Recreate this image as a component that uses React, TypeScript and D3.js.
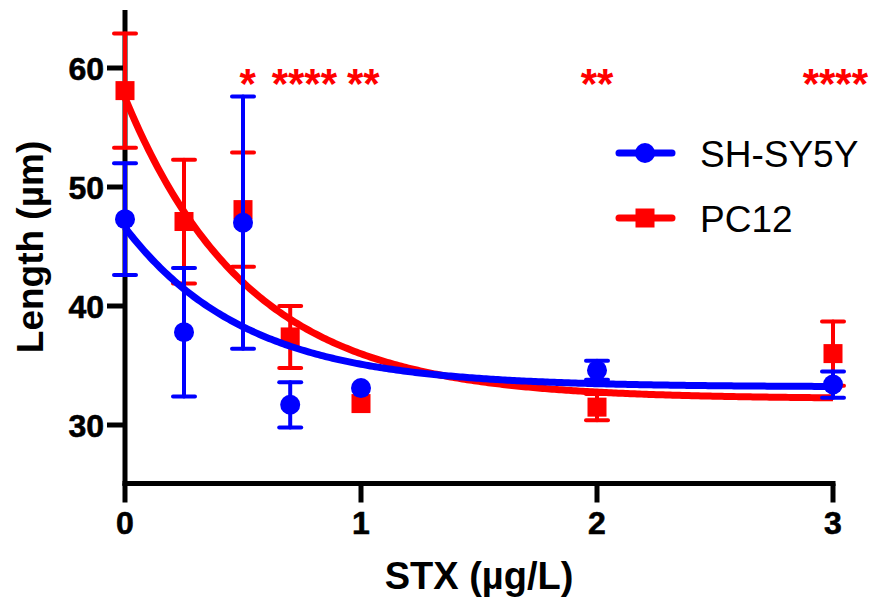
import React from "react";
import * as d3 from "d3";

const doses = [0, 0.25, 0.5, 0.7, 1, 2, 3];
const shMean = [47.3, 37.8, 47.0, 31.7, 33.1, 34.6, 33.4];
const shErr = [4.7, 5.4, 10.6, 1.9, 0, 0.8, 1.1];
const pcMean = [58.1, 47.1, 48.1, 37.4, 31.8, 31.5, 36.0];
const pcErr = [4.8, 5.2, 4.8, 2.6, 0, 1.1, 2.7];

// one-phase decay fits: [Y0, plateau, K]
const shFit = [46.6, 33.2, 1.95];
const pcFit = [57.5, 32.2, 1.9];

const xTicks = [0, 1, 2, 3];
const yTicks = [30, 40, 50, 60];
const sigX = [0.52, 0.76, 1.01, 2.0, 3.01];
const sigLabels = ["*", "****", "**", "**", "****"];
const sigY = 57.5;

const seriesNames = ["SH-SY5Y", "PC12"];
const BLUE = "#0000ff";
const RED = "#ff0000";
const FONT = "'Liberation Sans', Arial, Helvetica, sans-serif";

export default function App() {
  const W = 874, H = 599;
  const x = d3.scaleLinear().domain([0, 3]).range([125, 833]);
  const y = d3.scaleLinear().domain([25, 65]).range([484.5, 8.5]);

  const fitLine = (p: number[]) => {
    const xs = d3.range(0, 3.0001, 0.01);
    return d3
      .line<number>()
      .x((d) => x(d))
      .y((d) => y(p[1] + (p[0] - p[1]) * Math.exp(-p[2] * d)))(xs) as string;
  };

  const errBars = (mean: number[], err: number[], color: string) =>
    doses.map((d, i) =>
      err[i] > 0 ? (
        <g key={i} stroke={color} strokeWidth={4} strokeLinecap="round">
          <line x1={x(d)} x2={x(d)} y1={y(mean[i] - err[i])} y2={y(mean[i] + err[i])} />
          <line x1={x(d) - 11} x2={x(d) + 11} y1={y(mean[i] + err[i])} y2={y(mean[i] + err[i])} />
          <line x1={x(d) - 11} x2={x(d) + 11} y1={y(mean[i] - err[i])} y2={y(mean[i] - err[i])} />
        </g>
      ) : null
    );

  return (
    <svg width={W} height={H} style={{ position: "absolute", left: 0, top: 0, background: "#fff" }} fontFamily={FONT}>
      <rect width={W} height={H} fill="#fff" />
      {/* axes */}
      <g stroke="#000" strokeWidth={5}>
        <line x1={x(0)} x2={x(0)} y1={10} y2={y(25) + 1} />
        <line x1={x(0) - 2.5} x2={x(3) + 2.5} y1={y(25) - 1} y2={y(25) - 1} />
        {yTicks.map((t) => (
          <line key={t} x1={x(0) - 18} x2={x(0)} y1={y(t)} y2={y(t)} />
        ))}
        {xTicks.map((t) => (
          <line key={t} x1={x(t)} x2={x(t)} y1={y(25) - 1} y2={y(25) + 18} />
        ))}
      </g>
      {yTicks.map((t) => (
        <text key={t} x={x(0) - 21} y={y(t) + 12} textAnchor="end" fontWeight="bold" fontSize={32} fill="#000" stroke="#000" strokeWidth={0.6}>
          {t}
        </text>
      ))}
      {xTicks.map((t) => (
        <text key={t} x={x(t)} y={534} textAnchor="middle" fontWeight="bold" fontSize={32} fill="#000" stroke="#000" strokeWidth={0.6}>
          {t}
        </text>
      ))}
      <text x={479} y={589} textAnchor="middle" fontWeight="bold" fontSize={38} fill="#000">
        STX (µg/L)
      </text>
      <text
        transform={`translate(43,247) rotate(-90)`}
        textAnchor="middle"
        fontWeight="bold"
        fontSize={37}
        fill="#000"
      >
        Length (µm)
      </text>

      {/* PC12 */}
      {errBars(pcMean, pcErr, RED)}
      <path d={fitLine(pcFit)} fill="none" stroke={RED} strokeWidth={7} />
      {doses.map((d, i) => (
        <rect key={i} x={x(d) - 9.5} y={y(pcMean[i]) - 9.5} width={19} height={19} fill={RED} />
      ))}

      {/* SH-SY5Y */}
      {errBars(shMean, shErr, BLUE)}
      <path d={fitLine(shFit)} fill="none" stroke={BLUE} strokeWidth={7} />
      {doses.map((d, i) => (
        <circle key={i} cx={x(d)} cy={y(shMean[i])} r={10} fill={BLUE} />
      ))}

      {/* significance */}
      {sigX.map((s, i) => (
        <text key={i} x={x(s)} y={y(sigY)} textAnchor="middle" fontSize={42} fontWeight="bold" fill={RED}>
          {sigLabels[i]}
        </text>
      ))}

      {/* legend */}
      <g>
        <line x1={619} x2={672} y1={153} y2={153} stroke={BLUE} strokeWidth={7} strokeLinecap="round" />
        <circle cx={645} cy={153} r={10} fill={BLUE} />
        <text x={700} y={167} fontSize={37} fill="#000">{seriesNames[0]}</text>
        <line x1={619} x2={672} y1={218} y2={218} stroke={RED} strokeWidth={7} strokeLinecap="round" />
        <rect x={635.5} y={208.5} width={19} height={19} fill={RED} />
        <text x={700} y={232} fontSize={37} fill="#000">{seriesNames[1]}</text>
      </g>
    </svg>
  );
}
